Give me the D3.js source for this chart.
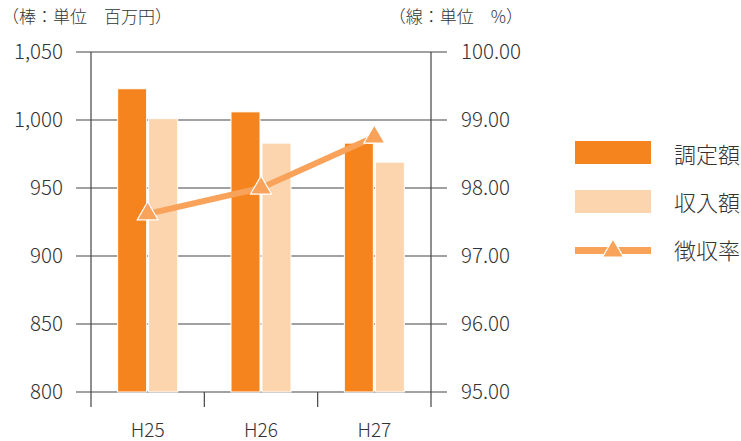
<!DOCTYPE html>
<html>
<head>
<meta charset="utf-8">
<script src="https://cdn.jsdelivr.net/npm/d3@7"></script>
<style>
  body { margin: 0; background: #fff; }
  text { font-family: "Noto Sans CJK JP", "Noto Sans", sans-serif; fill: #333; font-weight: 300; }
</style>
</head>
<body>
<div id="chart-area"></div>
<script>
// data
var years = ["H25", "H26", "H27"];
var chotei = [1023, 1006, 983];      // 調定額 (百万円)
var shunyu = [1001, 983, 969];       // 収入額 (百万円)
var rate = [97.62, 98.00, 98.75];    // 徴収率 (%)
var leftTicks = [800, 850, 900, 950, 1000, 1050];
var rightTicks = [95, 96, 97, 98, 99, 100];
var legendNames = ["調定額", "収入額", "徴収率"];

var colOrange = "#f5841f", colLight = "#fcd4ae", colLine = "#f8a25a";

var width = 741, height = 441;
var plot = { left: 91, right: 431, top: 52, bottom: 392 };

var svg = d3.select("#chart-area")
    .append("svg")
        .attr("width", width)
        .attr("height", height);

var x = d3.scaleBand().domain(years).range([plot.left, plot.right]);
var yL = d3.scaleLinear().domain([800, 1050]).range([plot.bottom, plot.top]);
var yR = d3.scaleLinear().domain([95, 100]).range([plot.bottom, plot.top]);

// gridlines
svg.append("g").selectAll("line")
    .data(leftTicks)
    .enter().append("line")
        .attr("x1", 76).attr("x2", 447)
        .attr("y1", function(d){ return yL(d); })
        .attr("y2", function(d){ return yL(d); })
        .attr("stroke", "#444").attr("stroke-width", 1.2);

// vertical frame lines + category ticks
var edges = years.map(function(d){ return x(d); }).concat([plot.right]);
svg.append("g").selectAll("line")
    .data(edges)
    .enter().append("line")
        .attr("x1", function(d){ return d; }).attr("x2", function(d){ return d; })
        .attr("y1", function(d, i){ return (i == 0 || i == edges.length - 1) ? plot.top : plot.bottom; })
        .attr("y2", plot.bottom + 15)
        .attr("stroke", "#444").attr("stroke-width", 1.2);

// bars
var bw = 29, gap = 2;
svg.append("g").selectAll("rect")
    .data(chotei)
    .enter().append("rect")
        .attr("x", function(d, i){ return x(years[i]) + x.bandwidth() / 2 - bw - gap / 2; })
        .attr("y", function(d){ return yL(d); })
        .attr("width", bw)
        .attr("height", function(d){ return plot.bottom - yL(d); })
        .attr("fill", colOrange).attr("stroke", "#fff").attr("stroke-width", 1);

svg.append("g").selectAll("rect")
    .data(shunyu)
    .enter().append("rect")
        .attr("x", function(d, i){ return x(years[i]) + x.bandwidth() / 2 + gap / 2; })
        .attr("y", function(d){ return yL(d); })
        .attr("width", bw)
        .attr("height", function(d){ return plot.bottom - yL(d); })
        .attr("fill", colLight).attr("stroke", "#fff").attr("stroke-width", 1);

// line
var cx = function(d, i){ return x(years[i]) + x.bandwidth() / 2; };
var line = d3.line()
    .x(cx)
    .y(function(d){ return yR(d); });
svg.append("path")
    .datum(rate)
    .attr("d", line)
    .attr("fill", "none")
    .attr("stroke", colLine).attr("stroke-width", 6);

var tri = d3.symbol().type(d3.symbolTriangle).size(190);
svg.append("g").selectAll("path")
    .data(rate)
    .enter().append("path")
        .attr("d", tri)
        .attr("transform", function(d, i){ return "translate(" + cx(d, i) + "," + yR(d) + ")"; })
        .attr("fill", colLine).attr("stroke", "#fff").attr("stroke-width", 1.2);

// axis labels
var fmt = d3.format(",");
svg.append("g").selectAll("text")
    .data(leftTicks)
    .enter().append("text")
        .attr("x", 63).attr("y", function(d){ return yL(d); })
        .attr("dy", "0.36em")
        .attr("text-anchor", "end")
        .attr("font-size", 20.5)
        .text(function(d){ return fmt(d); });

svg.append("g").selectAll("text")
    .data(rightTicks)
    .enter().append("text")
        .attr("x", 461).attr("y", function(d){ return yR(d); })
        .attr("dy", "0.36em")
        .attr("font-size", 20.5)
        .text(function(d){ return d.toFixed(2); });

svg.append("g").selectAll("text")
    .data(years)
    .enter().append("text")
        .attr("x", function(d){ return x(d) + x.bandwidth() / 2; })
        .attr("y", 430)
        .attr("dy", "0.36em")
        .attr("text-anchor", "middle")
        .attr("font-size", 19)
        .text(function(d){ return d; });

svg.append("text").attr("x", 2).attr("y", 17).attr("dy", "0.36em")
    .attr("font-size", 17).text("（棒：単位　百万円）");
svg.append("text").attr("x", 523).attr("y", 17).attr("dy", "0.36em")
    .attr("text-anchor", "end")
    .attr("font-size", 17).text("（線：単位　%）");

// legend
var lg = svg.append("g");
lg.append("rect").attr("x", 575).attr("y", 141).attr("width", 76).attr("height", 23).attr("fill", colOrange);
lg.append("rect").attr("x", 575).attr("y", 190).attr("width", 76).attr("height", 23).attr("fill", colLight);
lg.append("rect").attr("x", 575).attr("y", 247).attr("width", 76).attr("height", 7).attr("fill", colLine);
lg.append("path").attr("d", tri)
    .attr("transform", "translate(613,251)")
    .attr("fill", colLine).attr("stroke", "#fff").attr("stroke-width", 1.2);
lg.selectAll("text")
    .data(legendNames)
    .enter().append("text")
        .attr("x", 674)
        .attr("y", function(d, i){ return 155 + i * 48; })
        .attr("dy", "0.36em")
        .attr("font-size", 22)
        .text(function(d){ return d; });
</script>
</body>
</html>
